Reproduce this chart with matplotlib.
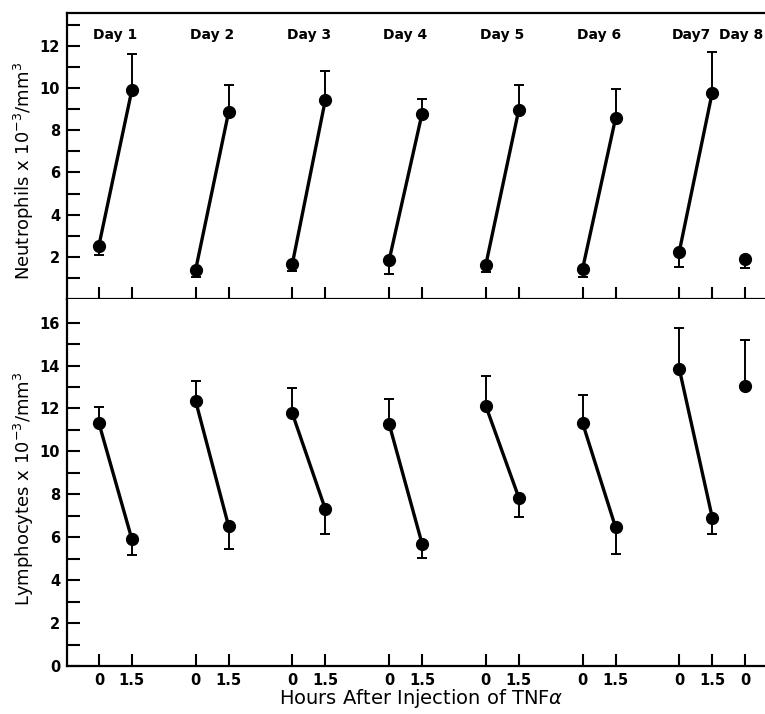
import matplotlib.pyplot as plt
import numpy as np

days = ['Day 1', 'Day 2', 'Day 3', 'Day 4', 'Day 5', 'Day 6', 'Day7', 'Day 8']

# neutrophils (x10^3/mm^3): value at 0 h and 1.5 h, with one-sided error-bar ends
neut_0h = [2.53, 1.38, 1.67, 1.83, 1.62, 1.42, 2.24, 1.92]
neut_0h_low = [2.08, 1.05, 1.35, 1.18, 1.26, 1.04, 1.54, 1.45]
neut_15h = [9.91, 8.86, 9.44, 8.79, 8.97, 8.56, 9.79]
neut_15h_high = [11.60, 10.14, 10.83, 9.50, 10.14, 9.95, 11.73]

# lymphocytes
lymph_0h = [11.32, 12.35, 11.77, 11.29, 12.12, 11.33, 13.85, 13.03]
lymph_0h_high = [12.05, 13.29, 12.97, 12.44, 13.53, 12.64, 15.74, 15.19]
lymph_15h = [5.91, 6.52, 7.31, 5.70, 7.85, 6.47, 6.92]
lymph_15h_low = [5.15, 5.45, 6.13, 5.05, 6.95, 5.20, 6.14]

# x layout
day_step = 4.4
x0 = [i * day_step for i in range(7)] + [6 * day_step + 3.0]
x15 = [x + 1.5 for x in x0[:7]]

tick_pos = sorted(x0 + x15)
tick_lab = ['0' if p in x0 else '1.5' for p in tick_pos]

fig = plt.figure(figsize=(7.65, 7.14), dpi=100)
ax1 = fig.add_axes([0.0876, 0.5812, 0.9124, 0.4006])
ax2 = fig.add_axes([0.0876, 0.0672, 0.9124, 0.514])

lw_line = 2.4
ms = 8.5


def draw(ax, v0, v15, err0, err15, up_at_0):
    v0 = np.array(v0)
    v15 = np.array(v15)
    e0 = np.abs(np.array(err0) - v0)
    e15 = np.abs(np.array(err15) - v15)
    z0 = np.zeros_like(e0)
    z15 = np.zeros_like(e15)
    if up_at_0:
        yerr0 = [z0, e0]
        yerr15 = [e15, z15]
    else:
        yerr0 = [e0, z0]
        yerr15 = [z15, e15]
    ax.errorbar(x0, v0, yerr=yerr0, fmt='none', ecolor='black',
                elinewidth=1.4, capsize=3.5, capthick=1.4)
    ax.errorbar(x15, v15, yerr=yerr15, fmt='none', ecolor='black',
                elinewidth=1.4, capsize=3.5, capthick=1.4)
    for i in range(7):
        ax.plot([x0[i], x15[i]], [v0[i], v15[i]], color='black', lw=lw_line,
                solid_capstyle='butt')
    ax.plot(x0, v0, 'o', color='black', ms=ms)
    ax.plot(x15, v15, 'o', color='black', ms=ms)


draw(ax1, neut_0h, neut_15h, neut_0h_low, neut_15h_high, up_at_0=False)
draw(ax2, lymph_0h, lymph_15h, lymph_0h_high, lymph_15h_low, up_at_0=True)

for ax in (ax1, ax2):
    ax.set_xlim(-1.45, 30.3)
    ax.spines['right'].set_visible(False)
    for s in ('left', 'top', 'bottom'):
        ax.spines[s].set_linewidth(1.6)
    ax.set_xticks(tick_pos)
    ax.tick_params(axis='both', which='both', direction='in', length=9,
                   width=1.5, labelsize=10.5)
    ax.tick_params(axis='y', pad=5)

ax2.spines['top'].set_visible(False)

ax1.set_ylim(0, 13.56)
ax1.set_yticks([2, 4, 6, 8, 10, 12])
ax1.set_yticks(np.arange(1, 14, 2), minor=True)
ax1.set_xticklabels([])

ax2.set_ylim(0, 17.1)
ax2.set_yticks(np.arange(0, 17, 2))
ax2.set_yticks(np.arange(1, 17, 2), minor=True)
ax2.set_xticklabels(tick_lab)
ax2.tick_params(axis='x', pad=5)

for ax in (ax1, ax2):
    for lab in ax.get_xticklabels() + ax.get_yticklabels():
        lab.set_fontweight('bold')

# day labels
label_x = [(a + b) / 2 for a, b in zip(x0[:6], x15[:6])] + [x0[6] + 0.55, x0[7] - 0.2]
for x, d in zip(label_x, days):
    ax1.text(x, 12.5, d, ha='center', va='center', fontsize=10,
             fontweight='bold')

ax1.set_ylabel('Neutrophils x 10$^{-3}$/mm$^3$', fontsize=13)
ax2.set_ylabel('Lymphocytes x 10$^{-3}$/mm$^3$', fontsize=13)
ax2.set_xlabel(r'Hours After Injection of TNF$\alpha$', fontsize=14)
ax1.yaxis.set_label_coords(-0.044, 0.448)
ax2.yaxis.set_label_coords(-0.044, 0.482)
ax2.xaxis.set_label_coords(0.507, -0.058)

fig.savefig('out.png', dpi=100)
